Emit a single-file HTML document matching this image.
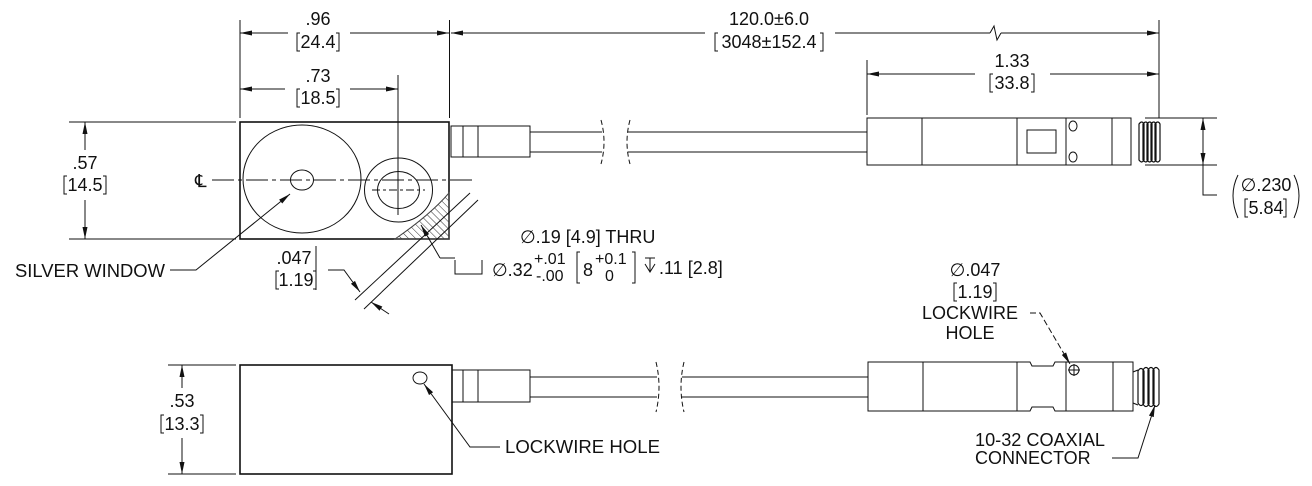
<!DOCTYPE html>
<html><head><meta charset="utf-8"><style>
html,body{margin:0;padding:0;background:#fff;}
svg{display:block;}
text{font-family:"Liberation Sans",sans-serif;font-size:18px;fill:#111;}
</style></head><body>
<svg width="1312" height="486" viewBox="0 0 1312 486" xmlns="http://www.w3.org/2000/svg">
<defs>
<marker id="a" viewBox="0 0 12 6" refX="12" refY="3" markerWidth="12" markerHeight="6" orient="auto-start-reverse" markerUnits="userSpaceOnUse"><path d="M0,0.5 L12,3 L0,5.5 Z" fill="#111"/></marker>
<pattern id="h" width="5" height="5" patternUnits="userSpaceOnUse" patternTransform="rotate(-45)"><line x1="0" y1="0" x2="0" y2="5" stroke="#333" stroke-width="1"/></pattern>
</defs>
<g stroke="#111" stroke-width="1" fill="none">
<rect x="240" y="122" width="209" height="117" stroke-width="1.6"/>
<ellipse cx="302" cy="179" rx="59" ry="54"/>
<ellipse cx="302" cy="180" rx="11.5" ry="10"/>
<ellipse cx="398.5" cy="190" rx="34" ry="32"/>
<ellipse cx="398.5" cy="190" rx="21" ry="18.5"/>
<line x1="372" y1="190" x2="425" y2="190" stroke-dasharray="8,3,3,3"/>
<line x1="398" y1="75" x2="398" y2="215"/>
<line x1="212" y1="180" x2="475" y2="180" stroke-dasharray="22,4,4,4"/>
<path d="M395,239 L449,239 L449,193 Q430,215 395,239 Z" fill="url(#h)" stroke="#444"/>
<line x1="470" y1="193" x2="355" y2="300"/>
<line x1="478" y1="200" x2="364" y2="309"/>
<line x1="240" y1="20" x2="240" y2="118"/>
<line x1="449.5" y1="20" x2="449.5" y2="118"/>
<line x1="288" y1="33" x2="240" y2="33" marker-end="url(#a)"/>
<line x1="350" y1="33" x2="449" y2="33" marker-end="url(#a)"/>
<path d="M990,33 L994,26 L997,40 L1001,33" />
<line x1="835" y1="33" x2="990" y2="33"/>
<line x1="1001" y1="33" x2="1159" y2="33" marker-end="url(#a)"/>
<line x1="705" y1="33" x2="451" y2="33" marker-end="url(#a)"/>
<line x1="1159" y1="20" x2="1159" y2="118"/>
<line x1="285" y1="89" x2="240" y2="89" marker-end="url(#a)"/>
<line x1="350" y1="89" x2="398" y2="89" marker-end="url(#a)"/>
<line x1="69" y1="122" x2="236" y2="122"/>
<line x1="69" y1="239" x2="236" y2="239"/>
<line x1="85" y1="150" x2="85" y2="122" marker-end="url(#a)"/>
<line x1="85" y1="200" x2="85" y2="239" marker-end="url(#a)"/>
<rect x="451" y="126" width="79" height="31"/>
<line x1="463" y1="126" x2="463" y2="157"/>
<line x1="478" y1="126" x2="478" y2="157"/>
<line x1="530" y1="132" x2="602" y2="132"/>
<line x1="530" y1="152" x2="602" y2="152"/>
<path d="M601,120 Q607,142 601,164" stroke-dasharray="5,3"/>
<path d="M630,120 Q624,142 630,164" stroke-dasharray="5,3"/>
<line x1="628" y1="132" x2="867" y2="132"/>
<line x1="628" y1="152" x2="867" y2="152"/>
<rect x="867" y="118" width="264" height="47"/>
<line x1="922" y1="118" x2="922" y2="165"/>
<line x1="1017" y1="118" x2="1017" y2="165"/>
<line x1="1066" y1="118" x2="1066" y2="165"/>
<line x1="1112" y1="118" x2="1112" y2="165"/>
<rect x="1027" y="130" width="29" height="23"/>
<ellipse cx="1073" cy="126" rx="4" ry="5"/>
<ellipse cx="1073" cy="157" rx="4" ry="5"/>
<g stroke-width="1.2">
<path d="M1139,124 Q1142,120 1144,124 L1144,160 Q1142,164 1139,160 Z"/>
<path d="M1143,124 Q1146,120 1148,124 L1148,160 Q1146,164 1143,160 Z"/>
<path d="M1147,124 Q1150,120 1152,124 L1152,160 Q1150,164 1147,160 Z"/>
<path d="M1151,124 Q1154,120 1156,124 L1156,160 Q1154,164 1151,160 Z"/>
<path d="M1155,124 Q1158,120 1160,124 L1160,160 Q1158,164 1155,160 Z"/>
</g>
<line x1="867" y1="60" x2="867" y2="115"/>
<line x1="975" y1="74" x2="867" y2="74" marker-end="url(#a)"/>
<line x1="1050" y1="74" x2="1159" y2="74" marker-end="url(#a)"/>
<line x1="1145" y1="118" x2="1217" y2="118"/>
<line x1="1145" y1="165" x2="1217" y2="165"/>
<line x1="1203" y1="140" x2="1203" y2="118" marker-end="url(#a)"/>
<line x1="1203" y1="140" x2="1203" y2="165" marker-end="url(#a)"/>
<polyline points="1203,165 1203,195 1217,195"/>
<polyline points="170,270 196,270 290,194" marker-end="url(#a)"/>
<line x1="316" y1="246" x2="316" y2="290"/>
<polyline points="328,270 344,270 360,292" marker-end="url(#a)"/>
<line x1="389" y1="314" x2="371" y2="302" marker-end="url(#a)"/>
<polyline points="440,258 455,258"/>
<line x1="440" y1="258" x2="421" y2="225" marker-end="url(#a)"/>
<polyline points="455,260 455,274 482,274 482,260"/>
<rect x="240" y="365" width="212" height="109" stroke-width="1.6"/>
<line x1="168" y1="365" x2="236" y2="365"/>
<line x1="168" y1="474" x2="236" y2="474"/>
<line x1="182" y1="388" x2="182" y2="365" marker-end="url(#a)"/>
<line x1="182" y1="438" x2="182" y2="474" marker-end="url(#a)"/>
<ellipse cx="420" cy="378" rx="7" ry="6"/>
<polyline points="500,447 470,447 424,384" marker-end="url(#a)"/>
<rect x="452" y="370" width="78" height="32"/>
<line x1="463" y1="370" x2="463" y2="402"/>
<line x1="478" y1="370" x2="478" y2="402"/>
<line x1="530" y1="377" x2="657" y2="377"/>
<line x1="530" y1="397" x2="657" y2="397"/>
<path d="M656,362 Q662,387 656,412" stroke-dasharray="5,3"/>
<path d="M684,362 Q678,387 684,412" stroke-dasharray="5,3"/>
<line x1="682" y1="377" x2="868" y2="377"/>
<line x1="682" y1="397" x2="868" y2="397"/>
<path d="M868,362 L1030,362 L1032,366 L1053,366 L1055,362 L1133,362 L1133,411 L1055,411 L1053,407 L1032,407 L1030,411 L868,411 Z"/>
<line x1="923" y1="362" x2="923" y2="411"/>
<line x1="1017" y1="362" x2="1017" y2="411"/>
<line x1="1066" y1="362" x2="1066" y2="411"/>
<line x1="1113" y1="362" x2="1113" y2="411"/>
<circle cx="1074" cy="370" r="5"/>
<line x1="1068" y1="370" x2="1080" y2="370"/>
<line x1="1074" y1="364" x2="1074" y2="376"/>
<polyline points="1030,313 1040,313 1070,364" stroke-dasharray="6,3" marker-end="url(#a)"/>
<g stroke-width="1.2">
<line x1="1133" y1="372" x2="1138" y2="370"/><line x1="1133" y1="403" x2="1138" y2="405"/>
<path d="M1138,371 Q1141,366 1144,371 L1144,403 Q1141,408 1138,403 Z"/>
<path d="M1143,370 Q1146,365 1149,370 L1149,404 Q1146,409 1143,404 Z"/>
<path d="M1148,370 Q1151,365 1154,370 L1154,404 Q1151,409 1148,404 Z"/>
<path d="M1153,370 Q1156,365 1159,370 L1159,404 Q1156,409 1153,404 Z"/>
</g>
<polyline points="1112,458 1138,458 1155,405" marker-end="url(#a)"/>
<path d="M300,33 L297,33 L297,51 L300,51 M336,33 L339,33 L339,51 L336,51"/>
<path d="M300,89 L297,89 L297,107 L300,107 M336,89 L339,89 L339,107 L336,107"/>
<path d="M67,176 L64,176 L64,194 L67,194 M103,176 L106,176 L106,194 L103,194"/>
<path d="M279,271 L276,271 L276,289 L279,289 M313,271 L316,271 L316,289 L313,289"/>
<path d="M718,33 L715,33 L715,51 L718,51 M820,33 L823,33 L823,51 L820,51"/>
<path d="M993,74 L990,74 L990,92 L993,92 M1031,74 L1034,74 L1034,92 L1031,92"/>
<path d="M1248,199 L1245,199 L1245,217 L1248,217 M1283,199 L1286,199 L1286,217 L1283,217"/>
<path d="M1238,175 Q1228,195 1238,218 M1294,175 Q1304,195 1294,218"/>
<path d="M580,252 L577,252 L577,283 L580,283 M632,252 L635,252 L635,283 L632,283"/>
<path d="M957,283 L954,283 L954,301 L957,301 M993,283 L996,283 L996,301 L993,301"/>
<path d="M164,415 L161,415 L161,433 L164,433 M200,415 L203,415 L203,433 L200,433"/>
<path d="M645,258 L655,258 M650,258 L650,272 M645,264 L650,272 L655,264"/>
</g>
<text x="195" y="187" style="font-size:18px">℄</text>
<g text-anchor="middle">
<text x="318" y="25">.96</text>
<text x="318" y="48">24.4</text>
<text x="318" y="82">.73</text>
<text x="318" y="104">18.5</text>
<text x="85" y="169">.57</text>
<text x="85" y="191">14.5</text>
<text x="294" y="264">.047</text>
<text x="296" y="286">1.19</text>
<text x="769" y="25">120.0±6.0</text>
<text x="769" y="48">3048±152.4</text>
<text x="1012" y="67">1.33</text>
<text x="1012" y="89">33.8</text>
<text x="1266" y="191">∅.230</text>
<text x="1266" y="214">5.84</text>
<text x="182" y="407">.53</text>
<text x="182" y="430">13.3</text>
<text x="975" y="276">∅.047</text>
<text x="975" y="298">1.19</text>
<text x="970" y="319">LOCKWIRE</text>
<text x="970" y="339">HOLE</text>
</g>
<text x="15" y="277" textLength="150" lengthAdjust="spacingAndGlyphs">SILVER WINDOW</text>
<text x="520" y="243">∅.19 [4.9] THRU</text>
<text x="492" y="276">∅.32</text>
<text x="534" y="264" style="font-size:16px">+.01</text>
<text x="536" y="281" style="font-size:16px">-.00</text>
<text x="583" y="276">8</text>
<text x="595" y="264" style="font-size:16px">+0.1</text>
<text x="605" y="281" style="font-size:16px">0</text>
<text x="659" y="274">.11 [2.8]</text>
<text x="505" y="453" textLength="155" lengthAdjust="spacingAndGlyphs">LOCKWIRE HOLE</text>
<text x="975" y="446" textLength="130" lengthAdjust="spacingAndGlyphs">10-32 COAXIAL</text>
<text x="975" y="464">CONNECTOR</text>
</svg>
</body></html>
